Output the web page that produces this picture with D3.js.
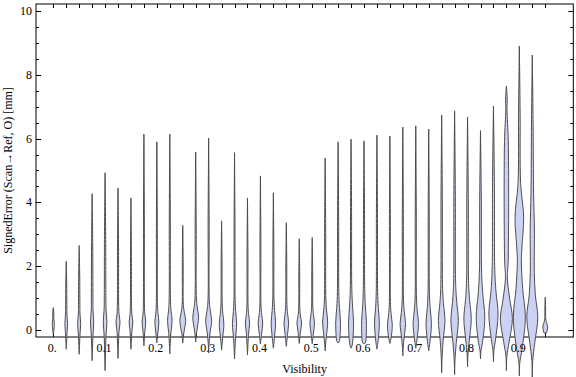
<!DOCTYPE html>
<html><head><meta charset="utf-8">
<script src="https://cdn.jsdelivr.net/npm/d3@7"></script>
<style>body{margin:0;background:#fff}svg{display:block}text{font-family:"Liberation Serif","Times New Roman",serif;font-size:12px;fill:#000}</style>
</head><body>
<svg id="c" width="576" height="377"></svg>
<script>
// Violin positions (visibility bins)
const visibility = [0,0.025,0.05,0.075,0.1,0.125,0.15,0.175,0.2,0.225,0.25,0.275,0.3,0.325,0.35,0.375,0.4,0.425,0.45,0.475,0.5,0.525,0.55,0.575,0.6,0.625,0.65,0.675,0.7,0.725,0.75,0.775,0.8,0.825,0.85,0.875,0.9,0.925,0.95];
const errMax  = [0.70,2.15,2.65,4.27,4.93,4.45,4.14,6.14,5.90,6.14,3.28,5.58,6.02,3.42,5.56,4.14,4.83,4.30,3.36,2.86,2.90,5.39,5.90,5.98,5.93,6.11,6.08,6.36,6.40,6.30,6.74,6.87,6.68,6.25,7.02,7.65,8.90,8.62,1.03];
const errMin  = [-0.15,-0.60,-0.76,-0.96,-1.27,-0.89,-0.60,-0.50,-0.40,-0.75,-0.41,-0.37,-0.72,-0.63,-0.91,-0.78,-0.44,-0.57,-0.51,-0.42,-0.43,-0.65,-0.41,-0.57,-0.41,-0.60,-0.42,-0.81,-0.57,-0.65,-1.34,-1.40,-1.16,-0.91,-1.00,-1.28,-1.44,-1.50,-0.08];
const errMode = [0.20,0.20,0.20,0.25,0.25,0.25,0.25,0.25,0.25,0.30,0.30,0.40,0.30,0.18,0.20,0.22,0.22,0.22,0.22,0.22,0.22,0.25,0.22,0.22,0.22,0.22,0.15,0.20,0.20,0.20,0.30,0.30,0.35,0.40,0.50,0.35,0.40,0.40,0.12];
const peakDensity = [1.0,1.3,1.5,1.6,1.8,2.0,1.8,1.8,2.0,2.3,2.9,2.9,3.0,2.3,2.1,2.1,2.3,2.2,2.3,2.3,2.3,2.5,2.4,2.5,2.4,2.4,2.4,2.7,2.7,2.7,3.3,3.7,3.7,4.3,4.6,6.0,6.0,5.5,2.3];
const bodyTop = [0.5,0.8,0.8,1.0,1.0,0.7,0.7,0.7,0.8,0.9,0.8,1.0,0.9,0.85,0.95,0.75,0.75,1.0,0.8,0.65,0.75,1.0,1.2,1.4,1.3,1.2,0.8,0.9,1.0,1.15,1.35,1.5,1.55,1.8,1.9,1.6,2.2,1.8,0.35];
const tailDensity = [0.5,0.6,0.7,0.8,0.8,0.7,0.6,0.6,0.6,0.7,0.6,0.7,0.7,0.6,0.6,0.6,0.6,0.6,0.6,0.6,0.6,0.7,0.7,0.7,0.7,0.7,0.6,0.7,0.7,0.7,0.9,1.0,1.0,1.1,1.3,1.0,2.0,2.0,0.5];
// secondary (upper) bulges
const upperIndex = [35,36,37];
const upperLo    = [2.2,2.6,2.5];
const upperLoW   = [1.8,2.6,2.0];
const upperPeak  = [5.9,3.55,3.2];
const upperPeakW = [1.9,4.3,2.1];
const upperHi    = [6.9,4.6,4.3];
const upperHiW   = [0.6,1.3,1.3];
// axis ticks
const xTickLabelValues = [0,0.1,0.2,0.3,0.4,0.5,0.6,0.7,0.8,0.9];
const xTickLabels = ["0.","0.1","0.2","0.3","0.4","0.5","0.6","0.7","0.8","0.9"];
const yMajor = [0,2,4,6,8,10];
const yMinor = [0.5,1,1.5,2.5,3,3.5,4.5,5,5.5,6.5,7,7.5,8.5,9,9.5];

const svg = d3.select("#c");
const L=36, R=573.3, T=4, B=337;
const x = d3.scaleLinear().domain([-0.0334,1.0042]).range([L,R]);
const y = d3.scaleLinear().domain([-0.2194,10.219]).range([B,T]);
const w = d3.scaleLinear().domain([0,6]).range([0,6]);

// frame
svg.append("rect").attr("x",L).attr("y",T).attr("width",R-L).attr("height",B-T)
  .attr("fill","none").attr("stroke","#000").attr("stroke-width",1);

const tk = svg.append("g").attr("stroke","#000").attr("stroke-width",1);
visibility.forEach(v=>{
  const xx = Math.round(x(v))+0.5;
  tk.append("line").attr("x1",xx).attr("x2",xx).attr("y1",T).attr("y2",T+4);
  tk.append("line").attr("x1",xx).attr("x2",xx).attr("y1",B).attr("y2",B-4);
});
yMajor.forEach(v=>{
  const yy = Math.round(y(v))+0.5;
  tk.append("line").attr("x1",L).attr("x2",L+5).attr("y1",yy).attr("y2",yy);
  tk.append("line").attr("x1",R).attr("x2",R-5).attr("y1",yy).attr("y2",yy);
});
yMinor.forEach(v=>{
  const yy = Math.round(y(v))+0.5;
  tk.append("line").attr("x1",L).attr("x2",L+3).attr("y1",yy).attr("y2",yy);
  tk.append("line").attr("x1",R).attr("x2",R-3).attr("y1",yy).attr("y2",yy);
});

// violins
function profile(i){
  const mn=errMin[i], mx=errMax[i], md=errMode[i], pk=peakDensity[i], bt=bodyTop[i], tw=tailDensity[i];
  const k=[[mn,0]];
  const lowSh = md - (0.5*(bt-md)+0.1);
  if (mn < lowSh - 0.35) k.push([(mn+lowSh)/2, Math.min(0.45, 0.12*pk+0.2)]);
  k.push([lowSh, 0.45*pk]);
  k.push([md, pk]);
  k.push([md+0.5*(bt-md), 0.55*pk]);
  k.push([bt, tw]);
  const u = upperIndex.indexOf(i);
  if (u>=0){
    k.push([upperLo[u], upperLoW[u]]);
    k.push([upperPeak[u], upperPeakW[u]]);
    k.push([upperHi[u], upperHiW[u]]);
    k.push([(upperHi[u]+mx)/2, 0.8]);
  } else {
    k.push([bt+(mx-bt)*0.5, tw*0.75]);
  }
  k.push([mx,0]);
  return k;
}
const area = d3.area().curve(d3.curveCatmullRom.alpha(0.5));
const vg = svg.append("g");
visibility.forEach((v,i)=>{
  const cx = x(v);
  area.y(d=>y(d[0])).x0(d=>cx-w(Math.max(0,d[1]))).x1(d=>cx+w(Math.max(0,d[1])));
  vg.append("path").attr("d",area(profile(i)))
    .attr("fill","#cbd2f4").attr("stroke","#474747").attr("stroke-width",0.95)
    .attr("stroke-linejoin","round");
});

// labels
xTickLabelValues.forEach((v,i)=>{
  svg.append("text").attr("x",x(v)-1).attr("y",351.7).attr("text-anchor","middle").text(xTickLabels[i]);
});
yMajor.forEach(v=>{
  svg.append("text").attr("x",32).attr("y",y(v)+4).attr("text-anchor","end").text(v);
});
svg.append("text").attr("x",(L+R)/2).attr("y",372.5).attr("text-anchor","middle").text("Visibility");
svg.append("text").attr("transform",`translate(11.5,${(T+B)/2}) rotate(-90)`).attr("text-anchor","middle")
  .text("SignedError (Scan\u2192Ref, O) [mm]");
</script>
</body></html>
